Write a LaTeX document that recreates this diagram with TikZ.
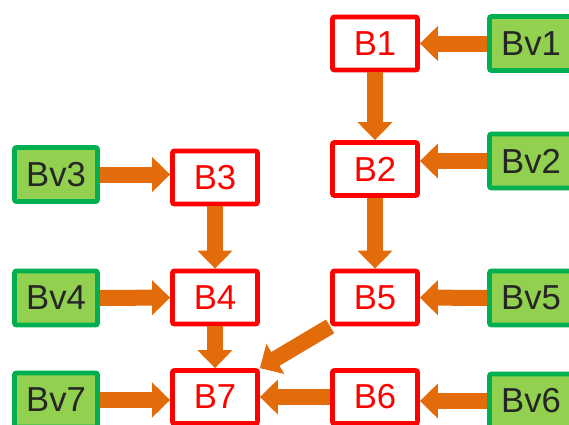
\documentclass[tikz,border=0pt]{standalone}
\usepackage{fontspec}
\setmainfont{Liberation Sans}
\usetikzlibrary{arrows.meta}

\definecolor{boxred}{HTML}{FF0000}
\definecolor{vgreen}{HTML}{92D050}
\definecolor{vborder}{HTML}{00B050}
\definecolor{arroworange}{HTML}{E36C0A}
\definecolor{vtext}{HTML}{262626}

\tikzset{
  bbox/.style={draw=boxred, fill=white, line width=3.6pt, rounded corners=1.5pt,
    minimum width=63.75pt, minimum height=39.75pt, inner sep=0pt,
    text=boxred, font=\fontsize{26}{30}\selectfont},
  vbox/.style={draw=vborder, fill=vgreen, line width=3.6pt, rounded corners=1.5pt,
    minimum width=62.25pt, minimum height=40.5pt, inner sep=0pt,
    text=vtext, font=\fontsize{26}{30}\selectfont},
  flow/.style={draw=arroworange, line width=12pt,
    -{Triangle[length=13.5pt 0 0, width=25.5pt 0 0]}}
}

\begin{document}
\begin{tikzpicture}[x=0.75pt,y=-0.75pt]
  \useasboundingbox (0,0) rectangle (569,425);
  \clip (0,0) rectangle (569,425);

  \node[bbox] (B1) at (375,43.5) {B1};
  \node[bbox] (B2) at (375,169) {B2};
  \node[bbox] (B3) at (215,177.5) {B3};
  \node[bbox] (B4) at (215,297.5) {B4};
  \node[bbox] (B5) at (375,297.5) {B5};
  \node[bbox] (B6) at (375,397) {B6};
  \node[bbox] (B7) at (215,397) {B7};

  \node[vbox] (Bv1) at (531,43.5) {Bv1};
  \node[vbox] (Bv2) at (531,161) {Bv2};
  \node[vbox] (Bv3) at (56,174.5) {Bv3};
  \node[vbox] (Bv4) at (56,298) {Bv4};
  \node[vbox] (Bv5) at (531,298) {Bv5};
  \node[vbox] (Bv6) at (531,401) {Bv6};
  \node[vbox] (Bv7) at (56,400) {Bv7};

  \draw[flow] (Bv1) -- (B1);
  \draw[flow] (B1) -- (B2);
  \draw[flow] (Bv2.west) -- (Bv2.west -| B2.east);
  \draw[flow] (Bv3.east) -- (Bv3.east -| B3.west);
  \draw[flow] (B3) -- (B4);
  \draw[flow] (Bv4) -- (B4);
  \draw[flow] (B2) -- (B5);
  \draw[flow] (Bv5) -- (B5);
  \draw[flow] (B4) -- (B7);
  \draw[flow] (B5.south west) -- (B7.north east);
  \draw[flow] (B6) -- (B7);
  \draw[flow] (Bv7.east) -- (Bv7.east -| B7.west);
  \draw[flow] (Bv6.west) -- (Bv6.west -| B6.east);
\end{tikzpicture}
\end{document}
